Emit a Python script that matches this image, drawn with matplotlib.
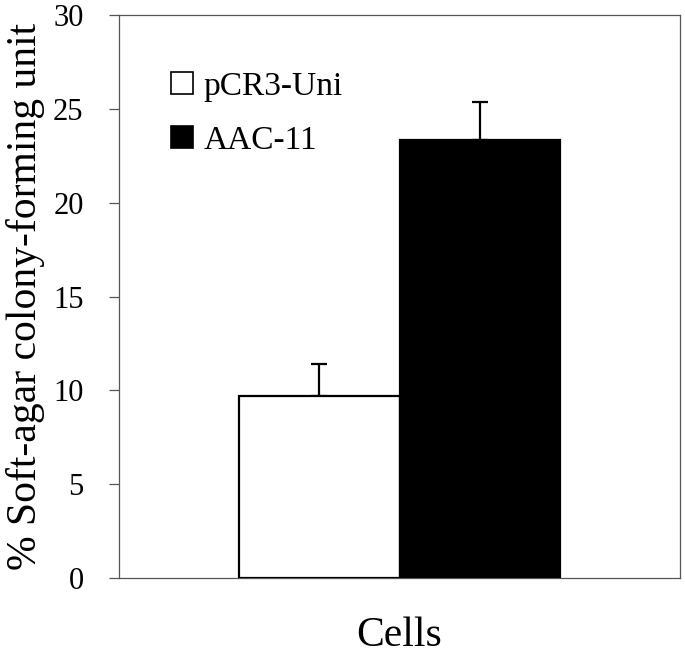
import matplotlib
matplotlib.use("Agg")
import matplotlib.pyplot as plt
from matplotlib.patches import Patch

# Data
series = ["pCR3-Uni", "AAC-11"]
values = [9.68, 23.35]
errors = [1.72, 2.0]
colors = ["white", "black"]
positions = [-0.5, 0.5]
yticks = [0, 5, 10, 15, 20, 25, 30]

plt.rcParams["font.family"] = ["Liberation Serif", "DejaVu Serif"]

fig = plt.figure(figsize=(6.85, 6.57), dpi=100)
ax = fig.add_axes([119/685, 1-578/657, (680-119)/685, (578-15)/657])

ax.bar(positions, values, width=1.0, color=colors, edgecolor="black",
       linewidth=1.6, zorder=3)
for x, v, e in zip(positions, values, errors):
    ax.errorbar([x], [v], yerr=[[0], [e]], fmt="none", ecolor="black",
                elinewidth=1.6, capsize=5.5, capthick=1.6, zorder=2)

ax.set_xlim(-1.75, 1.75)
ax.set_ylim(0, 30)
ax.set_yticks(yticks)
ax.set_yticklabels([str(t) for t in yticks], fontsize=22)
ax.tick_params(axis="y", direction="out", length=7.5, width=0.9,
               color="#555555", pad=18)
ax.set_xticks([])
for s in ax.spines.values():
    s.set_color("#555555")
    s.set_linewidth(0.9)

ax.set_ylabel("% Soft-agar colony-forming unit", fontsize=30, labelpad=6)
ax.set_xlabel("Cells", fontsize=30, labelpad=28)

handles = [Patch(facecolor=c, edgecolor="black", linewidth=1.2) for c in colors]
ax.legend(handles, series, loc="upper left", bbox_to_anchor=(0.093, 0.90),
          frameon=False, fontsize=24, handlelength=0.66, handleheight=0.66,
          handletextpad=0.3, labelspacing=0.7, borderpad=0, borderaxespad=0)

fig.savefig("out.png", dpi=100)
